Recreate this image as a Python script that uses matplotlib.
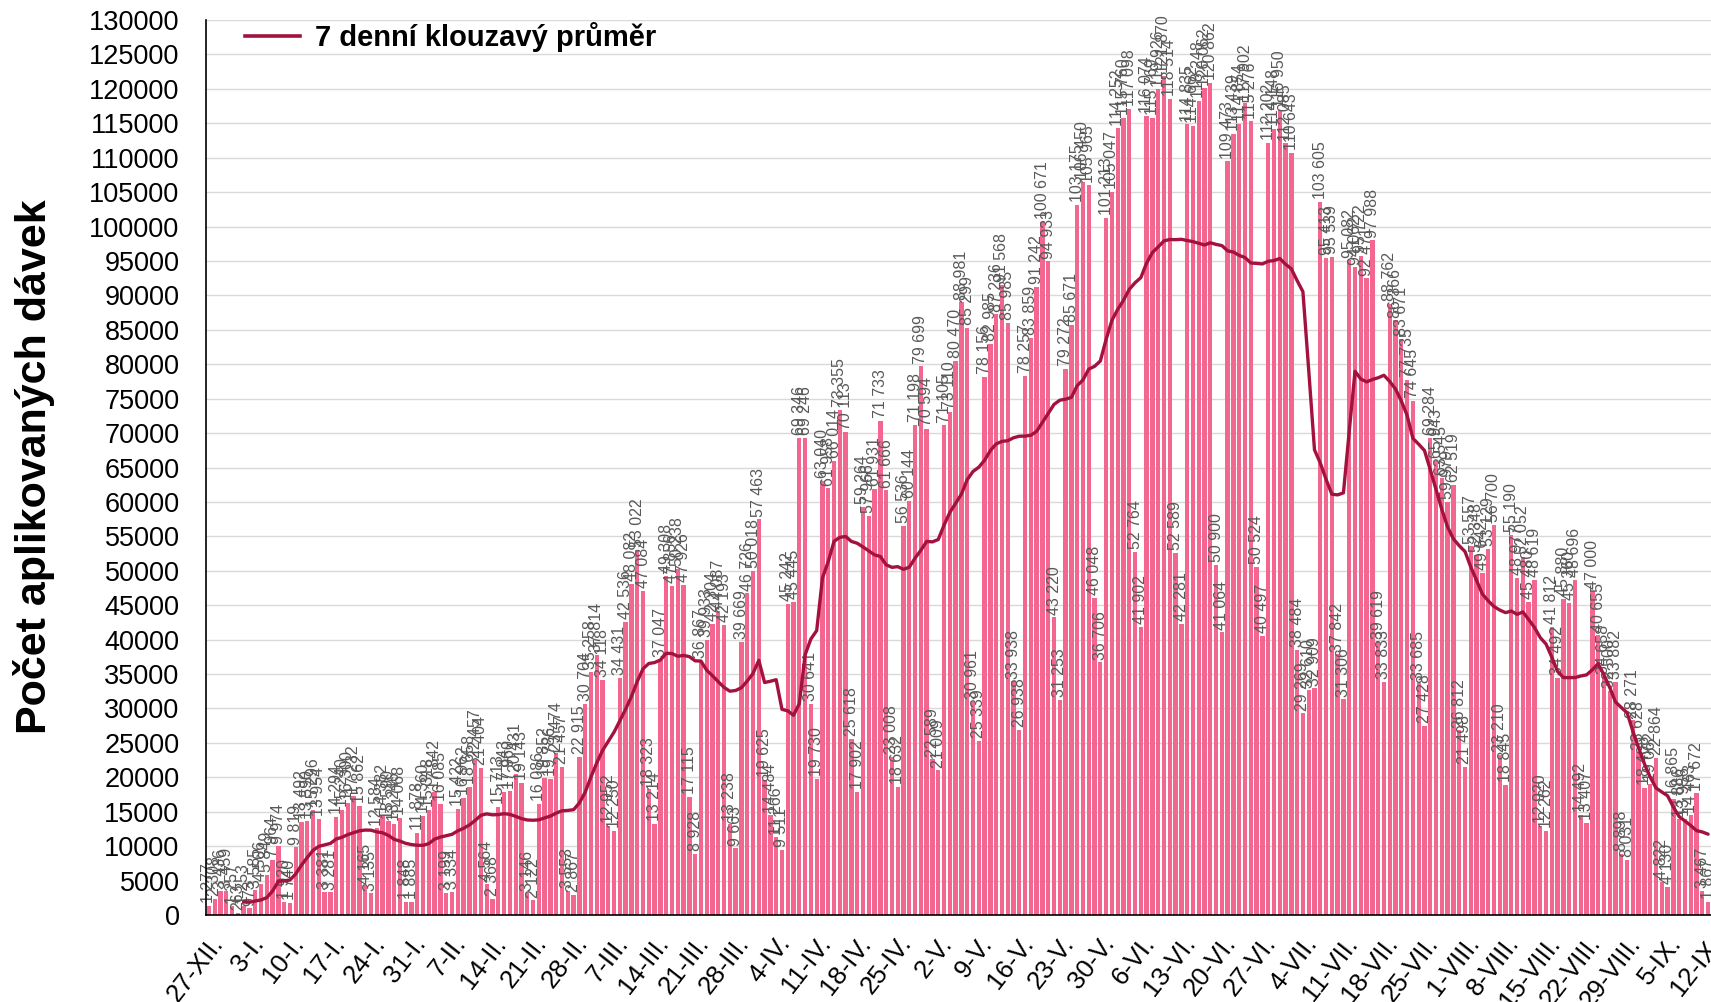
import matplotlib
matplotlib.use("Agg")
import matplotlib.pyplot as plt
import numpy as np
import pandas as pd
from matplotlib.lines import Line2D

# ---------------- data ----------------
# daily administered doses, 27-XII-2020 .. 12-IX-2021 (one value per day)
doses_dec_jan = [1277, 2308, 3436, 3459, 1257, 263, 1253, 973,
                 3585, 4506, 5849, 7964, 9974, 1920, 1740,
                 9819, 13492, 13590, 15296, 13954, 3381, 3281,
                 14294, 15240, 16300, 17232, 15862, 4165, 3135,
                 12584, 14382, 13590, 13246, 14068, 1848, 1885]
doses_feb = [11878, 14360, 15318, 17842, 16085, 3199, 3334,
             15422, 16962, 18658, 22457, 21404, 4564, 2368,
             15713, 17843, 17960, 20431, 19143, 3146, 2122,
             16086, 19852, 19786, 23474, 21457, 3553, 2867]
doses_mar = [22915, 30704, 35258, 37814, 34118, 12952, 12250,
             34431, 42536, 48082, 53022, 47084, 18323, 13214,
             37047, 49308, 47856, 50238, 47926, 17115, 8928,
             36867, 39933, 42304, 44087, 42193, 13238, 9663,
             39669, 46726, 50018]
doses_apr = [57463, 19625, 14484, 11266,
             9511, 45242, 45445, 69346, 69246, 30641, 19730,
             63040, 61958, 66014, 73355, 70113, 25618, 17902,
             59264, 57966, 61931, 71733, 61666, 23008, 18632,
             56536, 60144, 71198, 79699, 70594]
doses_may = [22589, 21009,
             71105, 73110, 80470, 88981, 85299, 30961, 25339,
             78156, 82985, 87236, 91568, 85985, 33938, 26938,
             78257, 83859, 91242, 100671, 94933, 43220, 31253,
             79272, 85671, 103175, 106450, 105965, 46048, 36706,
             101213]
doses_jun = [105047, 114252, 115760, 117098, 52764, 41902,
             116074, 115769, 119926, 121870, 118514, 52589, 42281,
             114835, 114662, 118248, 120062, 120862, 50900, 41064,
             109473, 113439, 114854, 117902, 115276, 50524, 40497,
             112202, 114148, 116950]
doses_jul = [112085, 110643, 38484, 29269,
             32610, 32909, 103605, 95413, 95539, 37842, 31306,
             95082, 94062, 95722, 92471, 97988, 39619, 33833,
             88762, 86366, 83671, 77735, 74645, 33685, 27428,
             69284, 65943, 63545, 59979, 62519, 26812]
doses_aug = [21498,
             53557, 52348, 49642, 53129, 56700, 23210, 18845,
             55190, 48977, 52052, 45480, 48619, 12920, 12262,
             41812, 34492, 45880, 45360, 48696, 14492, 13407,
             47000, 40655, 34658, 32500, 33882, 8898, 8031,
             28271, 23628]
doses_sep = [18408, 19062, 22864, 4822, 4130,
             16865, 13886, 13956, 14463, 17672, 3467, 1867]

week_labels = ["27-XII.", "3-I.", "10-I.", "17-I.", "24-I.", "31-I.", "7-II.",
               "14-II.", "21-II.", "28-II.", "7-III.", "14-III.", "21-III.",
               "28-III.", "4-IV.", "11-IV.", "18-IV.", "25-IV.", "2-V.", "9-V.",
               "16-V.", "23-V.", "30-V.", "6-VI.", "13-VI.", "20-VI.", "27-VI.",
               "4-VII.", "11-VII.", "18-VII.", "25-VII.", "1-VIII.", "8-VIII.",
               "15-VIII.", "22-VIII.", "29-VIII.", "5-IX.", "12-IX."]

legend_label = "7 denní klouzavý průměr"
y_label = "Počet aplikovaných dávek"

doses = np.array(doses_dec_jan + doses_feb + doses_mar + doses_apr + doses_may
                 + doses_jun + doses_jul + doses_aug + doses_sep)
days = np.arange(len(doses))
avg7 = pd.Series(doses).rolling(7).mean()

# ---------------- style ----------------
BAR = "#F2668F"
LINE = "#A3123F"
GRID = "#D9D9D9"
plt.rcParams["font.family"] = ["Liberation Sans", "DejaVu Sans"]

W, H = 1711, 1002
fig = plt.figure(figsize=(W / 100, H / 100), dpi=100)
ax = fig.add_axes([206 / W, 1 - 915 / H, (W - 206) / W, (915 - 20) / H])

ax.bar(days, doses, width=0.75, color=BAR, zorder=2)
ax.plot(days, avg7, color=LINE, lw=2.4, zorder=4, solid_capstyle="round")

for x, v in zip(days, doses):
    ax.annotate(f"{v:,}".replace(",", " "), (x, v), xytext=(0, 2),
                textcoords="offset points", rotation=90, ha="center",
                va="bottom", fontsize=11.5, color="#595959", zorder=3)

ax.set_xlim(-0.5, len(doses) - 0.5)
ax.set_ylim(0, 130000)
ax.set_yticks(np.arange(0, 130001, 5000))
ax.set_yticklabels([str(v) for v in range(0, 130001, 5000)], fontsize=19.5)
ax.tick_params(axis="y", length=0, pad=19)
ax.set_xticks(days[::7])
ax.set_xticklabels(week_labels, rotation=52, ha="right",
                   rotation_mode="anchor", fontsize=18.5)
ax.tick_params(axis="x", length=0, pad=12)
ax.grid(axis="y", color=GRID, lw=1.0, zorder=0)
ax.set_axisbelow(True)
for s in ("top", "right"):
    ax.spines[s].set_visible(False)
for s in ("left", "bottom"):
    ax.spines[s].set_color("black")
    ax.spines[s].set_linewidth(1.2)
    ax.spines[s].set_zorder(5)

fig.text(34 / W, 1 - 467 / H, y_label, rotation=90, ha="center", va="center",
         fontsize=31, fontweight="bold")

handle = Line2D([], [], color=LINE, lw=2.6)
ax.legend([handle], [legend_label], loc="center left",
          bbox_to_anchor=(245 / W, 1 - 37 / H), bbox_transform=fig.transFigure,
          frameon=False, borderpad=0, borderaxespad=0, handlelength=1.9,
          handletextpad=0.5, prop={"weight": "bold", "size": 21})

fig.savefig("out.png", dpi=100)
